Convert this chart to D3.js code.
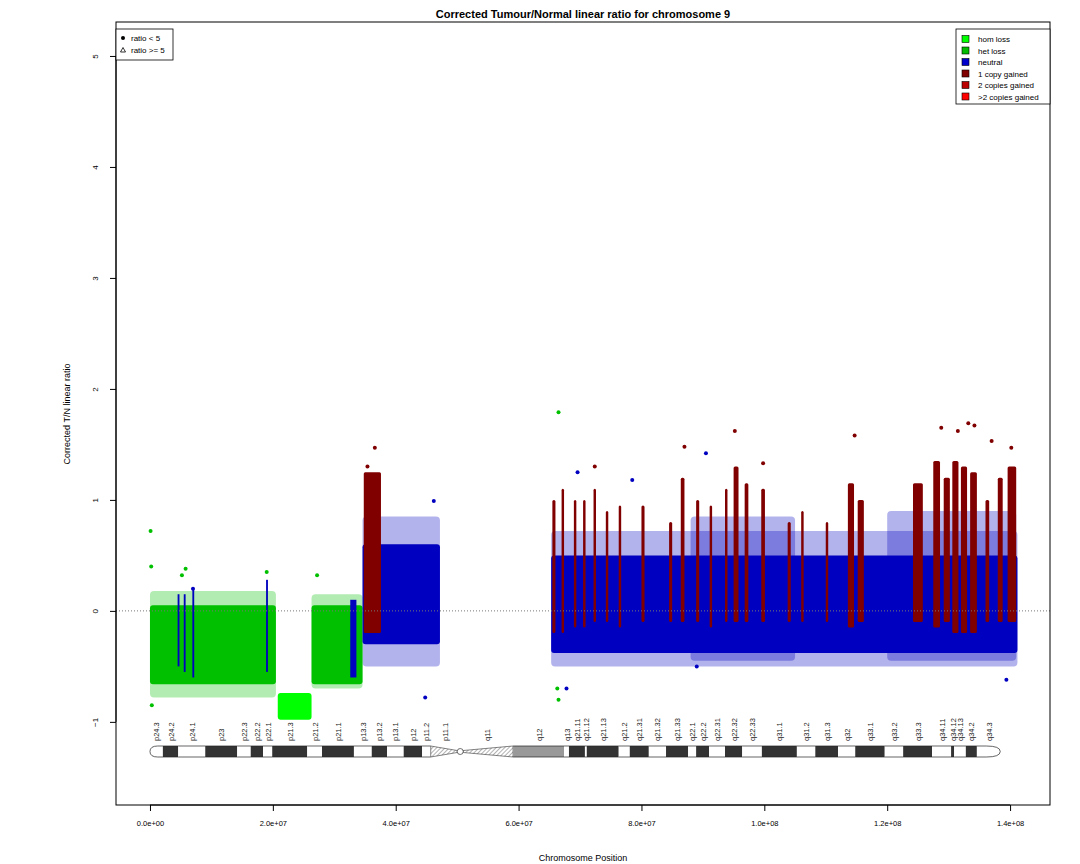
<!DOCTYPE html>
<html><head><meta charset="utf-8">
<script src="https://cdn.jsdelivr.net/npm/d3@7"></script>
<style>body{margin:0;background:#fff}text{font-family:"Liberation Sans",Arial,sans-serif}</style>
</head><body><div id="chart"></div>
<script>
// ticks
const xTicks = [0, 2e7, 4e7, 6e7, 8e7, 1e8, 1.2e8, 1.4e8];
const xTickLabels = ["0.0e+00","2.0e+07","4.0e+07","6.0e+07","8.0e+07","1.0e+08","1.2e+08","1.4e+08"];
const yTicks = [-1, 0, 1, 2, 3, 4, 5];

// dense point clouds: [start Mb, end Mb, low, high, state]
const cores = [
  [0, 20.5, -0.66, 0.05, "het"],
  [20.8, 26.3, -0.98, -0.74, "hom"],
  [26.3, 34.6, -0.66, 0.05, "het"],
  [34.6, 47.2, -0.3, 0.6, "neutral"],
  [65.3, 141.2, -0.38, 0.5, "neutral"]
];
// sparser fringes around the clouds
const fringes = [
  [0, 20.5, -0.78, 0.18, "het"],
  [26.3, 34.6, -0.7, 0.15, "het"],
  [34.6, 47.2, -0.5, 0.85, "neutral"],
  [65.3, 141.2, -0.5, 0.72, "neutral"],
  [88, 105, -0.45, 0.85, "neutral"],
  [120, 141, -0.45, 0.9, "neutral"]
];
// thin neutral streaks inside the loss region
const blueStreaks = [
  [4.5, 4.8, -0.5, 0.15], [5.5, 5.8, -0.55, 0.15], [6.9, 7.2, -0.6, 0.2],
  [18.9, 19.2, -0.55, 0.28], [32.6, 33.6, -0.6, 0.1]
];
// gained (1 copy) streaks: [start, end, low, high]
const gains = [
  [34.8, 37.6, -0.2, 1.25], [65.5, 66.0, -0.2, 1.0], [67.0, 67.4, -0.2, 1.1],
  [69.0, 69.4, -0.15, 1.0], [70.5, 70.9, -0.15, 1.0], [72.2, 72.6, -0.1, 1.1],
  [74.2, 74.6, -0.1, 0.9], [76.3, 76.7, -0.15, 0.95], [80.0, 80.5, -0.1, 0.95],
  [84.5, 85.0, -0.1, 0.8], [86.4, 87.0, -0.1, 1.2], [88.9, 89.4, -0.1, 1.0],
  [91.1, 91.5, -0.15, 0.95], [93.6, 94.0, -0.1, 1.1], [95.0, 95.8, -0.1, 1.3],
  [96.8, 97.4, -0.1, 1.15], [99.5, 100.1, -0.1, 1.1], [103.8, 104.3, -0.1, 0.8],
  [106.0, 106.4, -0.1, 0.9], [110.0, 110.4, -0.1, 0.8], [113.6, 114.6, -0.15, 1.15],
  [115.2, 116.2, -0.1, 1.0],
  [124.2, 125.8, -0.1, 1.15], [127.5, 128.6, -0.15, 1.35], [129.2, 130.2, -0.1, 1.2],
  [130.6, 131.6, -0.2, 1.35], [132.0, 133.0, -0.2, 1.3], [133.5, 134.6, -0.2, 1.25],
  [136.0, 136.6, -0.1, 1.0], [138.0, 138.8, -0.1, 1.2], [139.6, 141.0, -0.1, 1.3]
];
// isolated points: [position Mb, value, state]
const outliers = [
  [0.1, 0.72, "het"], [0.2, 0.4, "het"], [0.3, -0.85, "het"], [5.2, 0.32, "het"],
  [5.8, 0.38, "het"], [19.0, 0.35, "het"], [27.2, 0.32, "het"], [7.0, 0.2, "neutral"],
  [36.6, 1.47, "gain1"], [35.4, 1.3, "gain1"], [46.2, 0.99, "neutral"], [44.8, -0.78, "neutral"],
  [66.5, 1.79, "het"], [66.5, -0.8, "het"], [66.3, -0.7, "het"], [67.8, -0.7, "neutral"],
  [72.4, 1.3, "gain1"], [87.0, 1.48, "gain1"], [95.2, 1.62, "gain1"], [99.8, 1.33, "gain1"],
  [90.5, 1.42, "neutral"], [114.7, 1.58, "gain1"], [128.8, 1.65, "gain1"], [131.5, 1.62, "gain1"],
  [133.2, 1.69, "gain1"], [134.2, 1.67, "gain1"], [137.0, 1.53, "gain1"], [140.2, 1.47, "gain1"],
  [139.4, -0.62, "neutral"], [69.6, 1.25, "neutral"], [78.5, 1.18, "neutral"], [89.0, -0.5, "neutral"]
];
// cytobands: [name, start Mb, end Mb, stain]
const bands = [
  ["p24.3",0,2.1,"w"],["p24.2",2.1,4.6,"d"],["p24.1",4.6,9.0,"w"],["p23",9.0,14.2,"d"],
  ["p22.3",14.2,16.4,"w"],["p22.2",16.4,18.4,"d"],["p22.1",18.4,19.9,"w"],["p21.3",19.9,25.6,"d"],
  ["p21.2",25.6,28.0,"w"],["p21.1",28.0,33.2,"d"],["p13.3",33.2,36.1,"w"],["p13.2",36.1,38.6,"d"],
  ["p13.1",38.6,41.3,"w"],["p12",41.3,44.3,"d"],["p11.2",44.3,45.7,"w"],["p11.1",45.7,50.5,"acen"],
  ["q11",50.5,59.1,"acen"],["q12",59.1,67.4,"g"],["q13",67.4,68.2,"w"],["q21.11",68.2,70.8,"d"],
  ["q21.12",70.8,71.1,"w"],["q21.13",71.1,76.3,"d"],["q21.2",76.3,78.1,"w"],["q21.31",78.1,81.2,"d"],
  ["q21.32",81.2,84.0,"w"],["q21.33",84.0,87.6,"d"],["q22.1",87.6,88.9,"w"],["q22.2",88.9,91.0,"d"],
  ["q22.31",91.0,93.6,"w"],["q22.32",93.6,96.4,"d"],["q22.33",96.4,99.6,"w"],["q31.1",99.6,105.3,"d"],
  ["q31.2",105.3,108.3,"w"],["q31.3",108.3,112.0,"d"],["q32",112.0,114.8,"w"],["q33.1",114.8,119.6,"d"],
  ["q33.2",119.6,122.6,"w"],["q33.3",122.6,127.3,"d"],["q34.11",127.3,130.4,"w"],["q34.12",130.4,130.9,"d"],
  ["q34.13",130.9,132.8,"w"],["q34.2",132.8,134.6,"d"],["q34.3",134.6,138.4,"w"]
];
const legendStates = ["hom loss","het loss","neutral","1 copy gained","2 copies gained",">2 copies gained"];
const legendColors = ["#00ff00","#00bb00","#0000cc","#800000","#bb0000","#ff0000"];
const stateColor = {hom:"#00ff00", het:"#00c000", neutral:"#0000c0", gain1:"#800000"};

const W = 1080, H = 864;
const svg = d3.select("#chart").append("svg").attr("width", W).attr("height", H);
const x = d3.scaleLinear().domain([-5.53e6, 146.5e6]).range([116, 1050]);
const y = d3.scaleLinear().domain([-1.749, 5.306]).range([805, 22]);
const mb = v => x(v * 1e6);

svg.append("text").attr("x", 583).attr("y", 18).attr("text-anchor","middle")
  .attr("font-size", 11).attr("font-weight","bold").text("Corrected Tumour/Normal linear ratio for chromosome  9");

const plot = svg.append("g");
plot.selectAll(".fr").data(fringes).enter().append("rect")
  .attr("x", d => mb(d[0])).attr("width", d => mb(d[1]) - mb(d[0]))
  .attr("y", d => y(d[3])).attr("height", d => y(d[2]) - y(d[3]))
  .attr("rx", 4).attr("fill", d => stateColor[d[4]]).attr("opacity", 0.3);
plot.selectAll(".co").data(cores).enter().append("rect")
  .attr("x", d => mb(d[0])).attr("width", d => mb(d[1]) - mb(d[0]))
  .attr("y", d => y(d[3])).attr("height", d => y(d[2]) - y(d[3]))
  .attr("rx", 3).attr("fill", d => stateColor[d[4]]);
plot.selectAll(".bs").data(blueStreaks).enter().append("rect")
  .attr("x", d => mb(d[0])).attr("width", d => Math.max(1.5, mb(d[1]) - mb(d[0])))
  .attr("y", d => y(d[3])).attr("height", d => y(d[2]) - y(d[3])).attr("fill", stateColor.neutral);
plot.selectAll(".gn").data(gains).enter().append("rect")
  .attr("x", d => mb(d[0])).attr("width", d => Math.max(2, mb(d[1]) - mb(d[0])))
  .attr("y", d => y(d[3])).attr("height", d => y(d[2]) - y(d[3])).attr("rx", 1.5)
  .attr("fill", stateColor.gain1);
plot.selectAll(".ol").data(outliers).enter().append("circle")
  .attr("cx", d => mb(d[0])).attr("cy", d => y(d[1])).attr("r", 2)
  .attr("fill", d => stateColor[d[2]]);

// zero line
svg.append("line").attr("x1",116).attr("x2",1050).attr("y1",y(0)).attr("y2",y(0))
  .attr("stroke","#777").attr("stroke-dasharray","1,2");

// ideogram
const iy = 746, ih = 11;
const defs = svg.append("defs");
const pat = defs.append("pattern").attr("id","hatch").attr("patternUnits","userSpaceOnUse")
  .attr("width",3).attr("height",3).attr("patternTransform","rotate(45)");
pat.append("rect").attr("width",3).attr("height",3).attr("fill","#fff");
pat.append("line").attr("x1",0).attr("y1",0).attr("x2",0).attr("y2",3).attr("stroke","#666").attr("stroke-width",1);
const fillOf = {w:"#fff", d:"#333", g:"#999"};
const ideo = svg.append("g");
bands.forEach((b, i) => {
  const x0 = mb(b[1]), x1 = mb(b[2]), yc = iy + ih / 2;
  if (b[3] === "acen") {
    const p = b[0] === "p11.1"
      ? `M${x0},${iy}L${x1 - 3},${yc - 1}L${x1 - 3},${yc + 1}L${x0},${iy + ih}Z`
      : `M${x0 + 3},${yc - 1}L${x1},${iy}L${x1},${iy + ih}L${x0 + 3},${yc + 1}Z`;
    ideo.append("path").attr("d", p).attr("fill","url(#hatch)").attr("stroke","#333").attr("stroke-width",0.6);
  } else if (i === 0 || i === bands.length - 1) {
    const tip = i === 0 ? x0 : x1, base = i === 0 ? x1 : x0;
    const mid = i === 0 ? base - (base - tip) * 0.4 : base + (tip - base) * 0.4;
    ideo.append("path")
      .attr("d", `M${base},${iy}L${mid},${iy}Q${tip},${iy} ${tip},${yc}Q${tip},${iy+ih} ${mid},${iy+ih}L${base},${iy+ih}`)
      .attr("fill","#fff").attr("stroke","#222").attr("stroke-width",0.7);
  } else {
    ideo.append("rect").attr("x", x0).attr("y", iy).attr("width", x1 - x0).attr("height", ih)
      .attr("fill", fillOf[b[3]]);
    ideo.append("line").attr("x1",x0).attr("x2",x1).attr("y1",iy).attr("y2",iy).attr("stroke","#222").attr("stroke-width",0.7);
    ideo.append("line").attr("x1",x0).attr("x2",x1).attr("y1",iy+ih).attr("y2",iy+ih).attr("stroke","#222").attr("stroke-width",0.7);
  }
  const cx = (x0 + x1) / 2;
  ideo.append("text").attr("transform", `translate(${cx + 3},741) rotate(-90)`)
    .attr("font-size", 7.5).attr("fill","#222").text(b[0]);
});
ideo.append("circle").attr("cx", mb(50.5)).attr("cy", iy + ih / 2).attr("r", 3)
  .attr("fill","#fff").attr("stroke","#333").attr("stroke-width",0.7);

// frame and axes
svg.append("rect").attr("x",116).attr("y",22).attr("width",934).attr("height",783)
  .attr("fill","none").attr("stroke","#000");
const xa = svg.append("g").attr("transform","translate(0,805)")
  .call(d3.axisBottom(x).tickValues(xTicks).tickSize(6).tickFormat((d, i) => xTickLabels[i]));
xa.select(".domain").attr("d", `M${x(0)},0H${x(1.4e8)}`);
xa.selectAll("text").attr("font-size", 7.5).attr("dy", "1.6em").style("font-family","Liberation Sans, Arial");
const ya = svg.append("g").attr("transform","translate(116,0)")
  .call(d3.axisLeft(y).tickValues(yTicks).tickSize(6).tickFormat(d3.format("d")));
ya.select(".domain").attr("d", `M0,${y(-1)}V${y(5)}`);
ya.selectAll("text").attr("font-size", 8).attr("transform","rotate(-90)")
  .attr("x", 0).attr("y", -18).attr("dy", 0).attr("text-anchor","middle")
  .style("font-family","Liberation Sans, Arial");
svg.append("text").attr("transform",`translate(70,414) rotate(-90)`).attr("text-anchor","middle")
  .attr("font-size",9).text("Corrected T/N linear ratio");
svg.append("text").attr("x",583).attr("y",861).attr("text-anchor","middle")
  .attr("font-size",9).text("Chromosome Position");

// legends
const l1 = svg.append("g");
l1.append("rect").attr("x",116).attr("y",29).attr("width",57).attr("height",31).attr("fill","#fff").attr("stroke","#000").attr("stroke-width",0.8);
l1.append("circle").attr("cx",123).attr("cy",38).attr("r",2).attr("fill","#000");
l1.append("path").attr("d","M120.5,52L123,47.5L125.5,52Z").attr("fill","none").attr("stroke","#000").attr("stroke-width",0.8);
l1.append("text").attr("x",131).attr("y",41).attr("font-size",8).text("ratio < 5");
l1.append("text").attr("x",131).attr("y",53).attr("font-size",8).text("ratio >= 5");

const l2 = svg.append("g");
l2.append("rect").attr("x",956).attr("y",29).attr("width",94).attr("height",75).attr("fill","#fff").attr("stroke","#000").attr("stroke-width",0.8);
l2.selectAll(".lg").data(legendStates).enter().append("g").each(function(d, i) {
  const g = d3.select(this), yy = 39 + i * 11.5;
  g.append("rect").attr("x",962).attr("y",yy - 3.5).attr("width",7).attr("height",7)
    .attr("fill",legendColors[i]).attr("stroke","#000").attr("stroke-width",0.6);
  g.append("text").attr("x",978).attr("y",yy + 3).attr("font-size",8).text(d);
});
</script></body></html>
